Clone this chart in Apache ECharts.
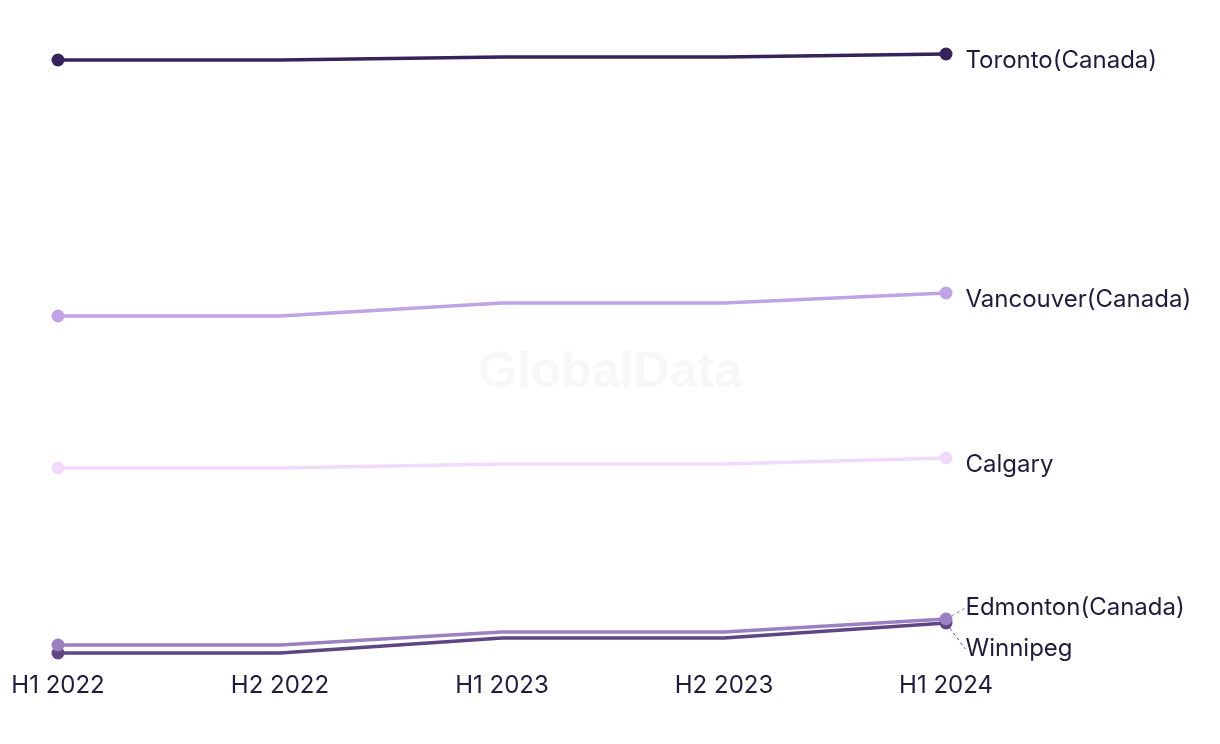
<!DOCTYPE html>
<html>
<head>
<meta charset="utf-8">
<script src="https://cdn.jsdelivr.net/npm/echarts@6/dist/echarts.min.js"></script>
<style>html,body{margin:0;padding:0;background:#fff}#c{width:1220px;height:744px}</style>
</head>
<body>
<div id="c"></div>
<script>
const categories = ['H1 2022', 'H2 2022', 'H1 2023', 'H2 2023', 'H1 2024'];
const seriesNames = ['Toronto(Canada)', 'Vancouver(Canada)', 'Calgary', 'Edmonton(Canada)', 'Winnipeg'];
const toronto = [600, 600, 603, 603, 606];
const vancouver = [344, 344, 357, 357, 367];
const calgary = [192, 192, 196, 196, 202];
const edmonton = [15, 15, 28, 28, 41];
const winnipeg = [7, 7, 22, 22, 37];
const colors = ['#37235a', '#bfa3e4', '#f1dafc', '#9b80c2', '#5e4684'];
const labelDy = [7, 7, 7, -11, 26];

const allData = [toronto, vancouver, calgary, edmonton, winnipeg];
const chart = echarts.init(document.getElementById('c'), null, {renderer: 'canvas'});
const textColor = '#1e1c3a';
const font = 'Inter, "Noto Sans", sans-serif';

const series = allData.map((d, i) => ({
  name: seriesNames[i],
  type: 'line',
  showAllSymbol: true,
  data: d.map((v, j) => {
    if (j === d.length - 1) {
      return {
        value: v,
        label: {
          show: true, position: 'right', distance: 13,
          formatter: seriesNames[i], color: textColor, fontSize: 24, fontFamily: font
        },
        labelLine: {show: i >= 3, lineStyle: {color: colors[i], type: [3, 3], width: 1}}
      };
    }
    if (j === 0) return {value: v};
    return {value: v, symbol: 'none'};
  }),
  symbol: 'circle',
  symbolSize: 13,
  lineStyle: {color: colors[i], width: 3.5},
  itemStyle: {color: colors[i]},
  label: {show: false},
  labelLayout: function () { return {dy: labelDy[i]}; },
  z: 10 - i,
  silent: true
}));

chart.setOption({
  animation: false,
  backgroundColor: '#fff',
  textStyle: {fontFamily: font},
  graphic: [{
    type: 'text', x: 610, y: 373,
    style: {text: 'GlobalData', fontSize: 50, fontWeight: 'bold', fill: '#f7f7f7',
      fontFamily: 'Arial, "Liberation Sans", sans-serif', align: 'center', verticalAlign: 'middle'},
    z: -10
  }],
  grid: {left: 58, right: 274, top: 40, bottom: 84},
  xAxis: {
    type: 'category', data: categories, boundaryGap: false,
    axisLine: {show: false}, axisTick: {show: false}, splitLine: {show: false},
    axisLabel: {color: textColor, fontSize: 24, margin: 14, fontFamily: font}
  },
  yAxis: {
    type: 'value', min: 0, max: 620,
    show: false, splitLine: {show: false}
  },
  series: series
});
</script>
</body>
</html>
